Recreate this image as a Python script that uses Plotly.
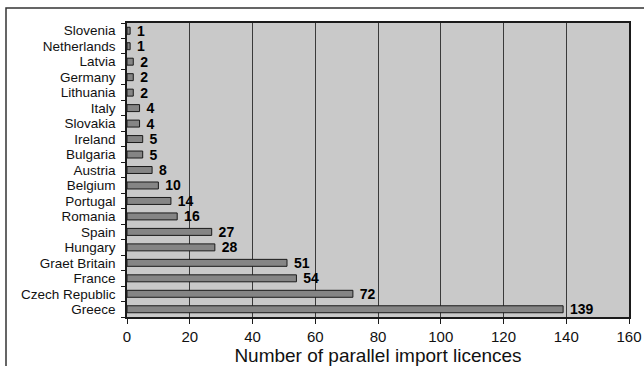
import plotly.graph_objects as go

countries = ["Greece", "Czech Republic", "France", "Graet Britain", "Hungary", "Spain",
             "Romania", "Portugal", "Belgium", "Austria", "Bulgaria", "Ireland",
             "Slovakia", "Italy", "Lithuania", "Germany", "Latvia", "Netherlands", "Slovenia"]
licences = [139, 72, 54, 51, 28, 27, 16, 14, 10, 8, 5, 5, 4, 4, 2, 2, 2, 1, 1]
x_ticks = [0, 20, 40, 60, 80, 100, 120, 140, 160]

W, H = 644, 366
ml, mr, mt, mb = 127, 15, 23, 49
pw, ph = W - ml - mr, H - mt - mb

fig = go.Figure(go.Bar(
    x=licences, y=countries, orientation="h",
    marker=dict(color="#858585", line=dict(color="#1a1a1a", width=1)),
    text=[f" <b>{v}</b>" for v in licences], textposition="outside",
    constraintext="none",
    textfont=dict(family="Liberation Sans, Arial", size=14, color="black"),
    cliponaxis=False,
))

fig.update_layout(
    width=W, height=H,
    margin=dict(l=ml, r=mr, t=mt, b=mb),
    paper_bgcolor="white", plot_bgcolor="#c9c9c9",
    bargap=0.55, showlegend=False,
    font=dict(family="Liberation Sans, Arial", color="#111111"),
    xaxis=dict(range=[0, 160], tickvals=x_ticks, showgrid=True, gridcolor="#3a3a3a",
               gridwidth=1, showline=True, linecolor="#1a1a1a", linewidth=1.5, mirror=True,
               ticks="outside", ticklen=5, tickcolor="#1a1a1a", zeroline=False,
               tickfont=dict(size=15), automargin=False,
               title=dict(text="Number of parallel import licences", font=dict(size=19), standoff=4)),
    yaxis=dict(tickmode="array", tickvals=countries, ticktext=countries,
               showline=True, linecolor="#1a1a1a", linewidth=1.5, mirror=True,
               ticks="outside", ticklen=4, tickson="boundaries", tickcolor="#1a1a1a",
               ticklabelstandoff=7, automargin=False,
               tickfont=dict(size=13.5), showgrid=False),
)

# outer frame around the whole figure
fig.add_shape(type="rect", xref="paper", yref="paper",
              x0=(6 - ml) / pw, x1=(W + 10 - ml) / pw,
              y0=-(H + 10 - mt - ph) / ph, y1=1 + (mt - 8) / ph,
              line=dict(color="#333333", width=1.5), fillcolor="rgba(0,0,0,0)", layer="below")

fig.write_html("out.html")
